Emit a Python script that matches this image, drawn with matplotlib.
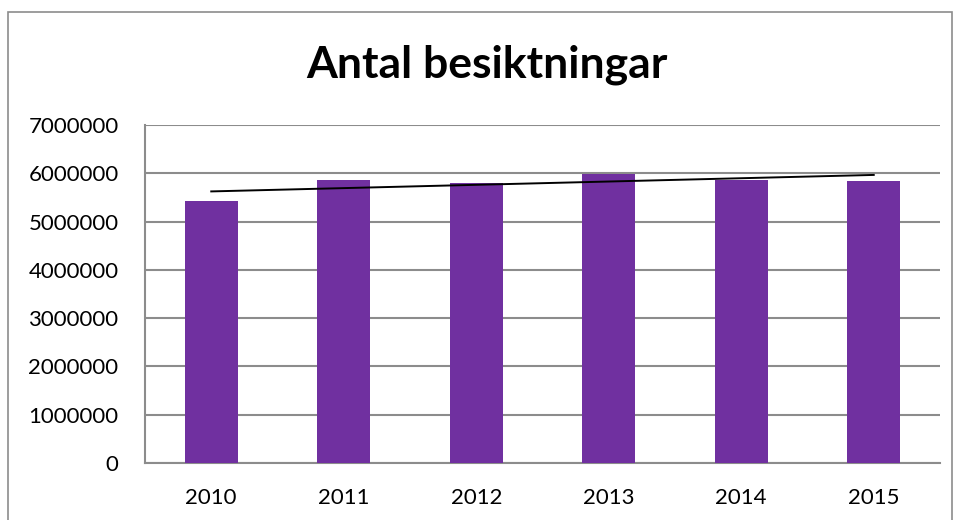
import matplotlib
matplotlib.use('Agg')
import matplotlib.pyplot as plt
from matplotlib.patches import Rectangle
import numpy as np

## Data
years = ['2010', '2011', '2012', '2013', '2014', '2015']
besiktningar = [5417000, 5860000, 5790000, 5985000, 5870000, 5850000]
yticks = [0, 1000000, 2000000, 3000000, 4000000, 5000000, 6000000, 7000000]

plt.rcParams['font.family'] = ['Lato', 'DejaVu Sans']

fig = plt.figure(figsize=(9.55, 5.2), dpi=100)
ax = fig.add_axes([145/955, 1-463/520, (940-145)/955, (463-125)/520])

x = np.arange(len(years))
ax.bar(x, besiktningar, width=0.4, color='#7030A0', zorder=3)

## linear trendline
k, m = np.polyfit(x, besiktningar, 1)
ax.plot(x, k*x + m, color='black', lw=1.4, zorder=4)

ax.set_xlim(-0.5, len(years)-0.5)
ax.set_ylim(0, 7000000)
ax.set_yticks(yticks)
ax.set_yticklabels([str(v) for v in yticks], fontsize=16)
ax.set_xticks(x)
ax.set_xticklabels(years, fontsize=16)
ax.yaxis.grid(True, color='#8c8c8c', lw=1.5, zorder=0)
ax.tick_params(axis='both', length=0)
ax.tick_params(axis='y', pad=19)
ax.tick_params(axis='x', pad=18)
for s in ['top', 'right']:
    ax.spines[s].set_visible(False)
ax.spines['left'].set_color('#8c8c8c')
ax.spines['bottom'].set_color('#8c8c8c')
ax.spines['left'].set_linewidth(1.5)
ax.spines['bottom'].set_linewidth(1.5)

fig.text(487/955, 1-65/520, 'Antal besiktningar', ha='center', va='center',
         fontsize=32, fontweight='bold')

## outer chart border
fig.add_artist(Rectangle((8/955, -0.1), (952-8)/955, 1.1-12/520,
                         transform=fig.transFigure, fill=False,
                         edgecolor='#8c8c8c', lw=1.2))

fig.savefig('out.png', dpi=100)
